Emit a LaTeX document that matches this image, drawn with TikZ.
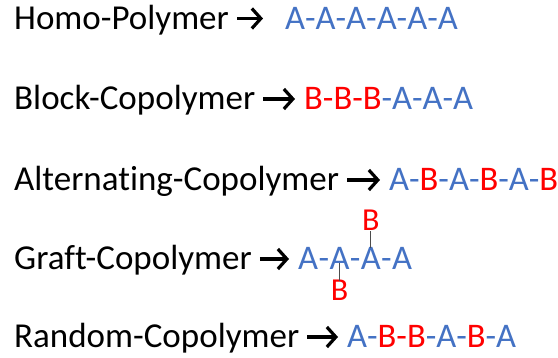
\documentclass[tikz,border=0pt]{standalone}
\usepackage{fontspec}
\setmainfont{Carlito}[Ligatures=NoCommon]
\usetikzlibrary{arrows.meta}

\definecolor{monoA}{RGB}{68,114,196}
\definecolor{monoB}{RGB}{255,0,0}

\def\A{\textcolor{monoA}{A}}
\def\B{\textcolor{monoB}{B}}
\def\da{\textcolor{monoA}{-}}
\def\db{\textcolor{monoB}{-}}
\def\kind#1#2#3{\node[kind] (#1) at (14, #2) {#3};}
\def\chain#1#2#3#4{\node[chain] (#1) at (#2, #3) {#4};}
\def\yields#1#2#3{\draw[yields, shorten >=#3] (#1) -- (#2);}

\begin{document}
\begin{tikzpicture}[x=1pt, y=-1pt,
    nodes={inner sep=0pt, anchor=base west, text height=22pt, text depth=0pt,
        font=\fontsize{35}{42}\selectfont},
    kind/.style={text=black},
    chain/.style={font=\fontsize{34.5}{42}\selectfont},
    branch/.style={anchor=base, text height=20pt, font=\fontsize{32}{38}\selectfont},
    yields/.style={-{Straight Barb[length=9pt, width=20pt]}, line width=3.2pt,
        shorten <=8pt},
    graft/.style={draw=black!70, line width=0.8pt}]
    \useasboundingbox (0,0) rectangle (558,358);

    \kind{homo}{29.5}{Homo-Polymer}
    \chain{homoc}{285}{29.5}{\A\da\A\da\A\da\A\da\A\da\A}
    \yields{homo.east}{homoc.west}{22pt}

    \kind{block}{110}{Block-Copolymer}
    \chain{blockc}{304}{110}{\B\db\B\db\B\da\A\da\A\da\A}
    \yields{block.east}{blockc.west}{9pt}

    \kind{alt}{191}{Alternating-Copolymer}
    \chain{altc}{389}{191}{\A\da\B\da\A\da\B\da\A\da\B}
    \yields{alt.east}{altc.west}{9pt}

    % graft: A backbone with B side groups
    \kind{graft}{270}{Graft-Copolymer}
    \chain{g1}{298}{270}{\A}
    \node[chain] (h1) at (g1.base east) {\da};
    \node[chain] (g2) at (h1.base east) {\A};
    \node[chain] (h2) at (g2.base east) {\da};
    \node[chain] (g3) at (h2.base east) {\A};
    \node[chain] (h3) at (g3.base east) {\da};
    \node[chain] (g4) at (h3.base east) {\A};
    \node[branch] (btop) at ([yshift=39pt]g3.base) {\B};
    \node[branch] (bbot) at ([yshift=-31pt]g2.base) {\B};
    \draw[graft] (btop.south) -- (g3.north);
    \draw[graft] ([yshift=7pt]g2.base) -- (bbot.north);
    \yields{graft.east}{g1.west}{9pt}

    \kind{rand}{348}{Random-Copolymer}
    \chain{randc}{347}{348}{\A\da\B\db\B\da\A\da\B\da\A}
    \yields{rand.east}{randc.west}{9pt}
\end{tikzpicture}
\end{document}
